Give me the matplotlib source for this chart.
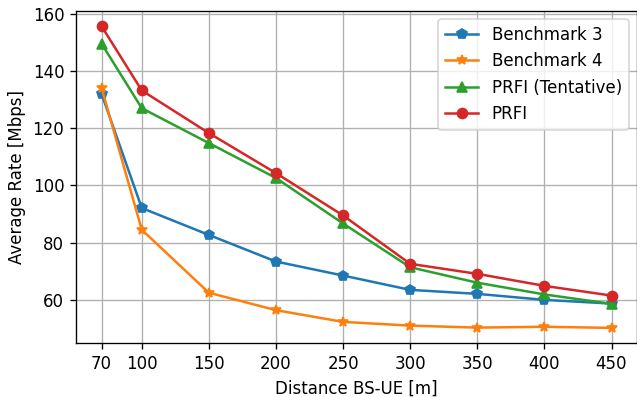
import matplotlib
matplotlib.use('Agg')
import matplotlib.pyplot as plt

distance = [70, 100, 150, 200, 250, 300, 350, 400, 450]
benchmark3 = [132.1, 92.1, 82.7, 73.4, 68.5, 63.5, 62.1, 60.0, 58.7]
benchmark4 = [134.2, 84.5, 62.5, 56.4, 52.3, 51.0, 50.3, 50.6, 50.2]
prfi_tentative = [149.6, 127.0, 114.8, 102.6, 86.7, 71.4, 66.0, 61.9, 58.6]
prfi = [155.7, 133.2, 118.3, 104.3, 89.5, 72.6, 69.1, 64.9, 61.5]

labels = ['Benchmark 3', 'Benchmark 4', 'PRFI (Tentative)', 'PRFI']
markers = ['p', '*', '^', 'o']

DPI = 120
fig = plt.figure(figsize=(637 / DPI, 397 / DPI), dpi=DPI)
ax = fig.add_axes([76 / 637, 1 - 343 / 397, 561 / 637, 332 / 397])

for series, label, marker in zip([benchmark3, benchmark4, prfi_tentative, prfi], labels, markers):
    ax.plot(distance, series, marker=marker, label=label)

ax.set_xticks(distance)
ax.set_yticks([60, 80, 100, 120, 140, 160])
ax.grid(True)
ax.set_xlabel('Distance BS-UE [m]')
ax.set_ylabel('Average Rate [Mbps]')
ax.legend(loc='upper right')

fig.savefig('out.png', dpi=DPI)
